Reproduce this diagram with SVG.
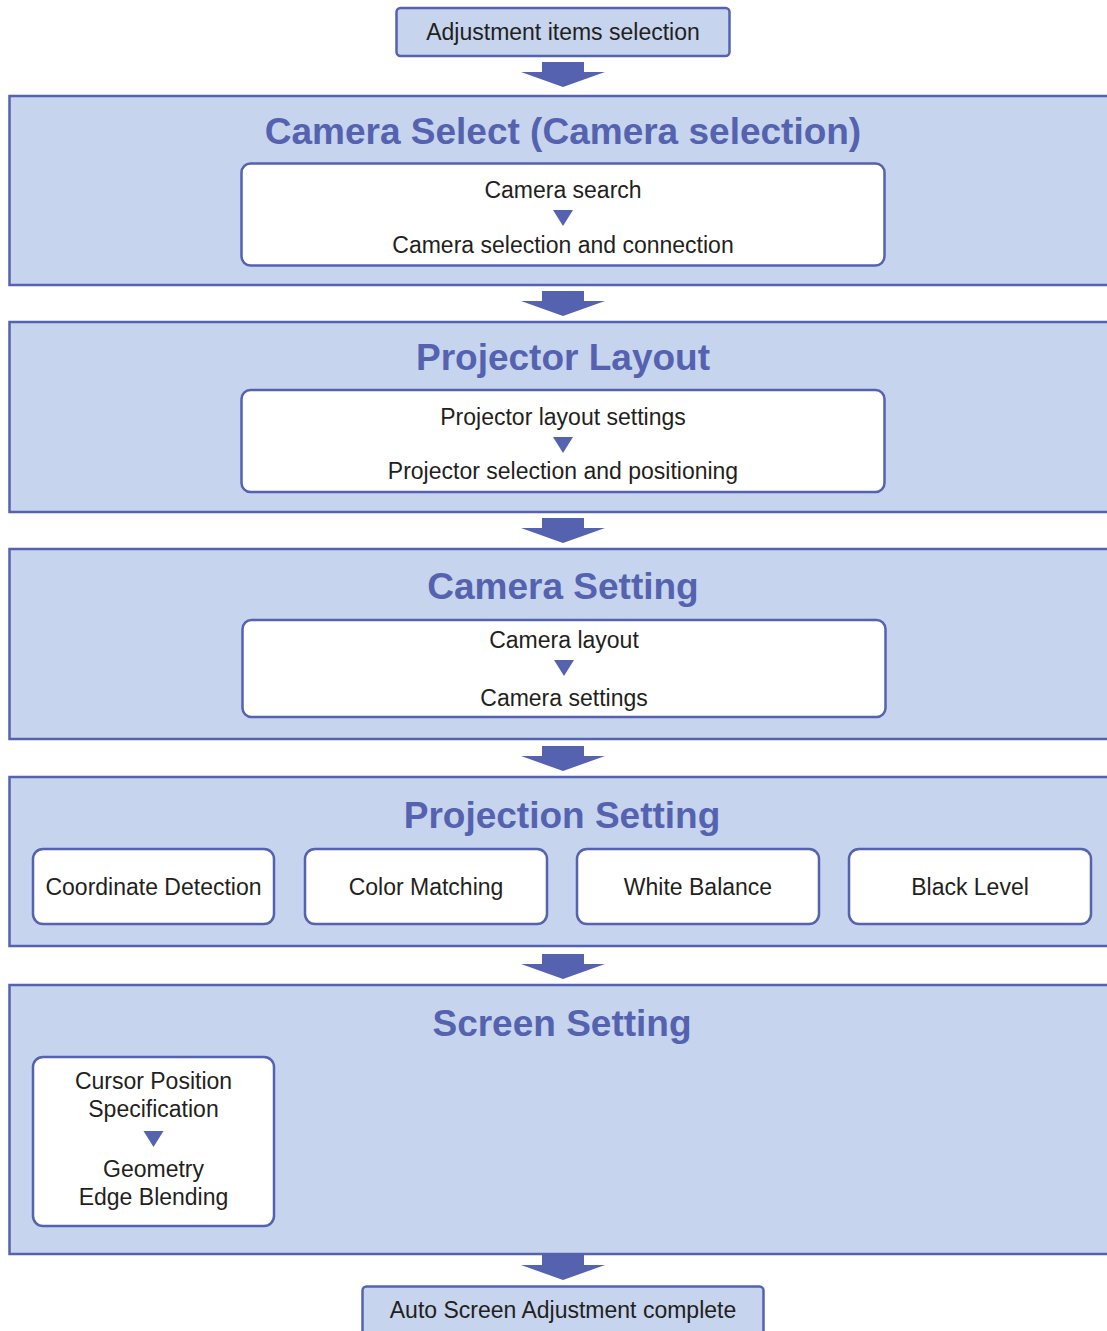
<svg xmlns="http://www.w3.org/2000/svg" width="1107" height="1331" viewBox="0 0 1107 1331">
<style>
.panel{fill:#c6d4ed;stroke:#5462b0;stroke-width:2.5}
.box{fill:#ffffff;stroke:#5462b0;stroke-width:2.5}
.lbox{fill:#c6d4ed;stroke:#5462b0;stroke-width:2.5}
.t{font-family:"Liberation Sans",Arial,sans-serif;font-size:23px;fill:#231f20;text-anchor:middle}
.h{font-family:"Liberation Sans",Arial,sans-serif;font-size:37px;font-weight:bold;fill:#5462b0;text-anchor:middle}
.arr{fill:#5462b0}
</style>
<defs>
<path id="bigArrow" d="M-21,0 H21 V10 H42 L0,25 L-42,10 H-21 Z"/>
<path id="tri" d="M-10,0 H10 L0,16 Z"/>
</defs>
<rect width="1107" height="1331" fill="#ffffff"/>
<g id="connectors" class="arr">
<use href="#bigArrow" x="563" y="62"/>
<use href="#bigArrow" x="563" y="291"/>
<use href="#bigArrow" x="563" y="518"/>
<use href="#bigArrow" x="563" y="746"/>
<use href="#bigArrow" x="563" y="954"/>
<use href="#bigArrow" x="563" y="1255"/>
</g>
<g id="start">
<rect class="lbox" x="396.5" y="8" width="333" height="48" rx="4"/>
<text class="t" x="563" y="40">Adjustment items selection</text>
</g>
<g id="camera-select">
<rect class="panel" x="9.5" y="96" width="1110" height="189"/>
<text class="h" x="563" y="144">Camera Select (Camera selection)</text>
<g id="camera-select-steps">
<rect class="box" x="241.5" y="163.5" width="643" height="102" rx="9"/>
<text class="t" x="563" y="198">Camera search</text>
<use class="arr" href="#tri" x="563" y="210"/>
<text class="t" x="563" y="253">Camera selection and connection</text>
</g>
</g>
<g id="projector-layout">
<rect class="panel" x="9.5" y="322" width="1110" height="190"/>
<text class="h" x="563" y="370">Projector Layout</text>
<g id="projector-layout-steps">
<rect class="box" x="241.5" y="390" width="643" height="102" rx="9"/>
<text class="t" x="563" y="425">Projector layout settings</text>
<use class="arr" href="#tri" x="563" y="437"/>
<text class="t" x="563" y="479">Projector selection and positioning</text>
</g>
</g>
<g id="camera-setting">
<rect class="panel" x="9.5" y="549" width="1110" height="190"/>
<text class="h" x="563" y="599">Camera Setting</text>
<g id="camera-setting-steps">
<rect class="box" x="242.5" y="620" width="643" height="97" rx="9"/>
<text class="t" x="564" y="648">Camera layout</text>
<use class="arr" href="#tri" x="564" y="660"/>
<text class="t" x="564" y="706">Camera settings</text>
</g>
</g>
<g id="projection-setting">
<rect class="panel" x="9.5" y="777" width="1110" height="169"/>
<text class="h" x="562" y="828">Projection Setting</text>
<g id="coordinate-detection">
<rect class="box" x="33" y="849" width="241" height="75" rx="10"/>
<text class="t" x="153.5" y="895">Coordinate Detection</text>
</g>
<g id="color-matching">
<rect class="box" x="305" y="849" width="242" height="75" rx="10"/>
<text class="t" x="426" y="895">Color Matching</text>
</g>
<g id="white-balance">
<rect class="box" x="577" y="849" width="242" height="75" rx="10"/>
<text class="t" x="698" y="895">White Balance</text>
</g>
<g id="black-level">
<rect class="box" x="849" y="849" width="242" height="75" rx="10"/>
<text class="t" x="970" y="895">Black Level</text>
</g>
</g>
<g id="screen-setting">
<rect class="panel" x="9.5" y="985" width="1110" height="269"/>
<text class="h" x="562" y="1036">Screen Setting</text>
<g id="screen-steps">
<rect class="box" x="33" y="1057" width="241" height="169" rx="10"/>
<text class="t" x="153.5" y="1089">Cursor Position</text>
<text class="t" x="153.5" y="1117">Specification</text>
<use class="arr" href="#tri" x="153.5" y="1131"/>
<text class="t" x="153.5" y="1177">Geometry</text>
<text class="t" x="153.5" y="1205">Edge Blending</text>
</g>
</g>
<g id="end">
<rect class="lbox" x="362.5" y="1286.5" width="401" height="60" rx="4"/>
<text class="t" x="563" y="1318">Auto Screen Adjustment complete</text>
</g>
</svg>
